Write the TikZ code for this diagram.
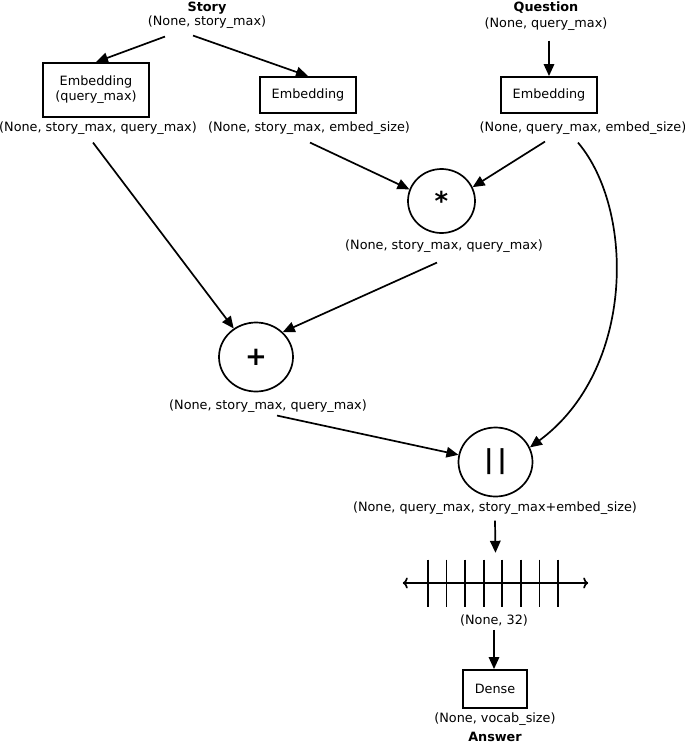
\documentclass[tikz,border=0pt]{standalone}
\usepackage{fontspec}
\setmainfont{DejaVu Sans}
\usetikzlibrary{arrows.meta,shapes.geometric}
\begin{document}
\begin{tikzpicture}[x=1pt, y=-1pt,
    font=\fontsize{12.8}{15}\selectfont,
    layer/.style={draw, line width=1.9pt, minimum height=36, inner xsep=12, align=center},
    op/.style={draw, ellipse, line width=1.7pt, minimum width=74, minimum height=69, inner sep=0pt, font=\fontsize{26}{30}\selectfont\bfseries},
    shp/.style={inner sep=1pt},
    io/.style={inner sep=1pt, font=\fontsize{12.8}{15}\selectfont\bfseries},
    arr/.style={line width=1.7pt, -{Triangle[length=12pt,width=10.5pt]}}]
    \useasboundingbox (0,0) rectangle (685,745);
    % Inputs
    \node[io] (story) at (207,8) {Story};
    \node[shp] (lstory) at (207,22) {(None, story\_max)};
    \node[io] (question) at (546,8) {Question};
    \node[shp] (lquestion) at (546,24) {(None, query\_max)};
    % Embeddings
    \node[layer, minimum height=54] (embq) at (96,90) {Embedding\\(query\_max)};
    \node[shp] (lembq) at (98,128) {(None, story\_max, query\_max)};
    \node[layer] (embs) at (308,95) {Embedding};
    \node[shp] (lembs) at (309,128) {(None, story\_max, embed\_size)};
    \node[layer] (embquest) at (549,95) {Embedding};
    \node[shp] (lembquest) at (583,128) {(None, query\_max, embed\_size)};
    % Merge ops
    \node[op, minimum width=67, minimum height=64] (mul) at (441.5,201) {*};
    \node[shp] (lmul) at (444,246) {(None, story\_max, query\_max)};
    \node[op] (add) at (256,357) {+};
    \node[shp] (ladd) at (268,406) {(None, story\_max, query\_max)};
    \node[op] (concat) at (495.5,462) {|\kern4pt|};
    \node[shp] (lconcat) at (495,508) {(None, query\_max, story\_max+embed\_size)};
    % Hidden layer
    \node[minimum width=185, minimum height=60] (bar) at (495.5,583) {};
    \draw[line width=1.7pt, {To[length=5pt,width=11pt]}-{To[length=5pt,width=11pt]}] (bar.west) -- (bar.east);
    \foreach \i in {0,...,7}
        \draw[line width=1.7pt] ([xshift=-67.5+18.57*\i, yshift=23.5]bar.center) -- ([xshift=-67.5+18.57*\i, yshift=-23.5]bar.center);
    \node[shp] (lbar) at (494,620) {(None, 32)};
    % Output
    \node[layer, minimum height=38] (dense) at (495,689) {Dense};
    \node[shp] (ldense) at (495,719) {(None, vocab\_size)};
    \node[io] (answer) at (495,737) {Answer};
    % Edges
    \draw[arr] ([xshift=-42, yshift=-7]lstory.south) -- (embq.north);
    \draw[arr] ([xshift=-14, yshift=-6]lstory.south) -- (embs.north);
    \draw[arr] ([xshift=3, yshift=-9]lquestion.south) -- (embquest.north);
    \draw[arr] ([xshift=1, yshift=-7]lembs.south) -- (mul.160);
    \draw[arr] ([xshift=-38, yshift=-6]lembquest.south) -- (mul.24);
    \draw[arr] ([xshift=-5, yshift=-7]lembq.south) -- (add.128);
    \draw[arr] ([xshift=-7, yshift=-9]lmul.south) -- (add.43);
    \draw[arr] ([xshift=9, yshift=-2]ladd.south) -- (concat.169);
    \draw[arr] ([xshift=-5, yshift=-7]lembquest.south) .. controls (635,210) and (635,370) .. (concat.23);
    \draw[arr] ([yshift=-5]lconcat.south) -- (bar.north);
    \draw[arr] ([yshift=-3]lbar.south) -- (lbar.south |- dense.north);
\end{tikzpicture}
\end{document}
